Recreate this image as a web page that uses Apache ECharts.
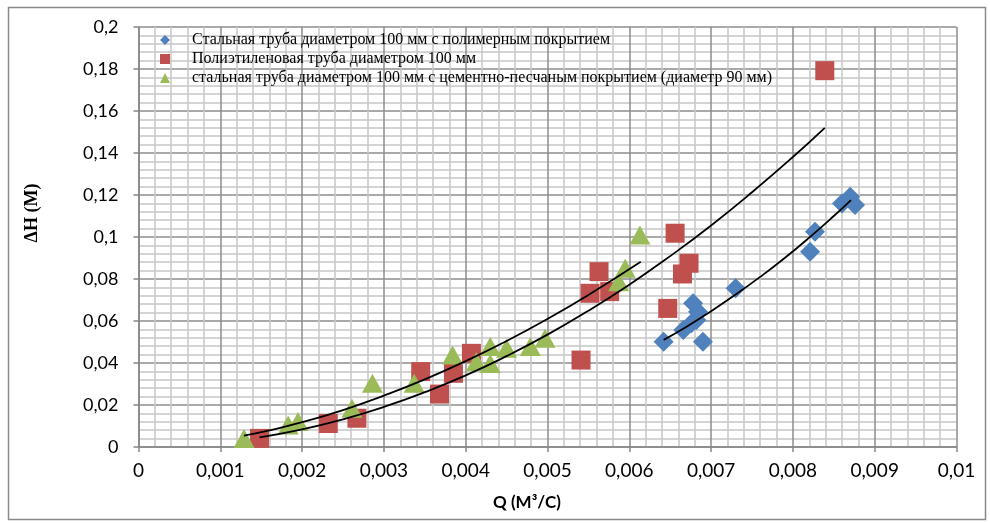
<!DOCTYPE html>
<html>
<head>
<meta charset="utf-8">
<script src="https://cdn.jsdelivr.net/npm/echarts@6/dist/echarts.min.js"></script>
<style>
  html, body { margin: 0; padding: 0; background: #fff; }
  #chart { width: 990px; height: 523px; }
</style>
</head>
<body>
<div id="chart"></div>
<script>
// Series names shown in the legend
const seriesNames = [
  'Стальная труба диаметром 100 мм с полимерным покрытием',
  'Полиэтиленовая труба диаметром 100 мм',
  'стальная труба диаметром 100 мм с цементно-песчаным покрытием (диаметр 90 мм)'
];

// Steel pipe with polymer coating: flow Q (m³/s) and head loss ΔH (m)
const steelQ = [0.00642, 0.00666, 0.00676, 0.00682, 0.00684, 0.00678, 0.00690, 0.00730, 0.00821, 0.00827, 0.00860, 0.00870, 0.00876];
const steelH = [0.0501, 0.0557, 0.0589, 0.0605, 0.0644, 0.0684, 0.0501, 0.0756, 0.0930, 0.1025, 0.1160, 0.1192, 0.1152];

// Polyethylene pipe
const peQ = [0.00148, 0.00232, 0.00267, 0.00345, 0.00368, 0.00385, 0.00407, 0.00541, 0.00552, 0.00563, 0.00576, 0.00647, 0.00656, 0.00665, 0.00673, 0.00839];
const peH = [0.0041, 0.0112, 0.0137, 0.0359, 0.0252, 0.0351, 0.0446, 0.0414, 0.0732, 0.0835, 0.0740, 0.0660, 0.1018, 0.0824, 0.0875, 0.1792];

// Steel pipe with cement-sand lining
const cementQ = [0.00129, 0.00183, 0.00195, 0.00261, 0.00286, 0.00337, 0.00384, 0.00413, 0.00430, 0.00430, 0.00450, 0.00479, 0.00497, 0.00587, 0.00595, 0.00613];
const cementH = [0.0041, 0.0105, 0.0121, 0.0184, 0.0303, 0.0303, 0.0438, 0.0406, 0.0478, 0.0398, 0.0470, 0.0478, 0.0518, 0.0787, 0.0851, 0.1010];

// Trend curves (points along each fitted curve)
const steelTrendQ = [0.00642, 0.0067, 0.0070, 0.0073, 0.0076, 0.0079, 0.0082, 0.0085, 0.00871];
const steelTrendH = [0.0510, 0.0573, 0.0647, 0.0726, 0.0810, 0.0900, 0.0997, 0.1100, 0.1176];
const peTrendQ = [0.00148, 0.0020, 0.0025, 0.0030, 0.0035, 0.0040, 0.0045, 0.0050, 0.0055, 0.0060, 0.0065, 0.0070, 0.0075, 0.0080, 0.00839];
const peTrendH = [0.0046, 0.0084, 0.0132, 0.0191, 0.0261, 0.0341, 0.0433, 0.0535, 0.0649, 0.0773, 0.0909, 0.1055, 0.1213, 0.1381, 0.1520];
const cementTrendQ = [0.00129, 0.0016, 0.0020, 0.0025, 0.0030, 0.0035, 0.0040, 0.0045, 0.0050, 0.0055, 0.00614];
const cementTrendH = [0.0054, 0.0079, 0.0118, 0.0176, 0.0245, 0.0322, 0.0409, 0.0505, 0.0610, 0.0724, 0.0882];

// Axis ranges
const xRange = { min: 0, max: 0.01, step: 0.001 };
const yRange = { min: 0, max: 0.2, step: 0.02 };

const pairs = (xs, ys) => xs.map((x, i) => [x, ys[i]]);
const commaFmt = v => String(+(+v).toFixed(4)).replace('.', ',');

const majorGrid = { show: true, lineStyle: { color: '#8c8c8c', width: 1.5 } };
const minorGrid = { show: true, lineStyle: { color: '#c6c6c6', width: 1.5 } };
const axisGray = '#868686';

const chart = echarts.init(document.getElementById('chart'));
chart.setOption({
  animation: false,
  backgroundColor: '#fff',
  grid: { left: 138.5, right: 33.5, top: 27, bottom: 76, containLabel: false },
  legend: {
    orient: 'vertical',
    left: 155,
    top: 27,
    itemWidth: 10,
    itemHeight: 10,
    itemGap: 3,
    selectedMode: false,
    textStyle: { fontFamily: 'Liberation Serif', fontSize: 16, color: '#000', lineHeight: 16, padding: [0, 0, 0, 17] },
    data: [
      { name: seriesNames[0], icon: 'diamond' },
      { name: seriesNames[1], icon: 'rect' },
      { name: seriesNames[2], icon: 'triangle' }
    ]
  },
  xAxis: {
    type: 'value',
    min: xRange.min, max: xRange.max, interval: xRange.step,
    axisLine: { show: true, onZero: false, lineStyle: { color: axisGray, width: 1.5 } },
    axisTick: { show: true, length: 5, lineStyle: { color: axisGray, width: 1.5 } },
    axisLabel: { formatter: commaFmt, color: '#000', fontFamily: 'Liberation Sans Narrow, Lato', fontSize: 19, margin: 14 },
    splitLine: majorGrid,
    minorTick: { show: false, splitNumber: 5 },
    minorSplitLine: minorGrid
  },
  yAxis: {
    type: 'value',
    min: yRange.min, max: yRange.max, interval: yRange.step,
    axisLine: { show: true, onZero: false, lineStyle: { color: axisGray, width: 1.5 } },
    axisTick: { show: true, length: 5, lineStyle: { color: axisGray, width: 1.5 } },
    axisLabel: { formatter: commaFmt, color: '#000', fontFamily: 'Lato', fontSize: 18, margin: 20 },
    splitLine: majorGrid,
    minorTick: { show: false, splitNumber: 5 },
    minorSplitLine: minorGrid
  },
  graphic: [
    { type: 'rect', silent: true, z: -10, shape: { x: 8.5, y: 7.5, width: 977, height: 512 },
      style: { fill: 'none', stroke: '#8a8a8a', lineWidth: 1.5 } },
    { type: 'text', silent: true, x: 32, y: 213, rotation: Math.PI / 2,
      style: { text: 'ΔH (M)', font: 'bold 18px "Liberation Serif"', fill: '#000', align: 'center', verticalAlign: 'middle' } },
    { type: 'text', silent: true, x: 527, y: 503,
      style: { text: 'Q (M³/C)', font: 'bold 17px Lato', fill: '#000', align: 'center', verticalAlign: 'middle' } }
  ],
  series: [
    { name: seriesNames[0], type: 'scatter', symbol: 'diamond', symbolSize: 20, z: 3,
      itemStyle: { color: '#4F81BD', opacity: 1 }, data: pairs(steelQ, steelH) },
    { name: seriesNames[1], type: 'scatter', symbol: 'rect', symbolSize: 19, z: 3,
      itemStyle: { color: '#C0504D', opacity: 1 }, data: pairs(peQ, peH) },
    { name: seriesNames[2], type: 'scatter', symbol: 'triangle', symbolSize: [21, 19], z: 3,
      itemStyle: { color: '#9BBB59', opacity: 1 }, data: pairs(cementQ, cementH) },
    { name: 'Тренд 1', type: 'line', smooth: true, showSymbol: false, silent: true, z: 5,
      lineStyle: { color: '#000', width: 1.8 }, data: pairs(steelTrendQ, steelTrendH) },
    { name: 'Тренд 2', type: 'line', smooth: true, showSymbol: false, silent: true, z: 5,
      lineStyle: { color: '#000', width: 1.8 }, data: pairs(peTrendQ, peTrendH) },
    { name: 'Тренд 3', type: 'line', smooth: true, showSymbol: false, silent: true, z: 5,
      lineStyle: { color: '#000', width: 1.8 }, data: pairs(cementTrendQ, cementTrendH) }
  ]
});
</script>
</body>
</html>
